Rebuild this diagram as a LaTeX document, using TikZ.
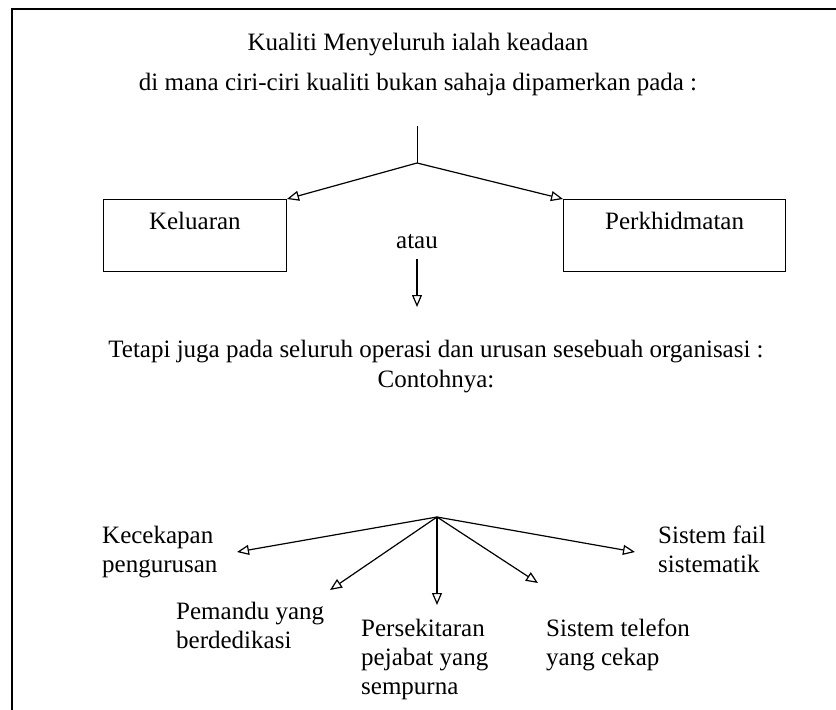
\documentclass[tikz,border=0pt]{standalone}
\usepackage{fontspec}
\setmainfont{Liberation Serif}
\usetikzlibrary{arrows.meta, positioning}
\tikzstyle{kotak} = [rectangle, draw=black, line width=1.2pt, inner sep=0pt, text height=30pt, text depth=42pt, align=center]
\tikzstyle{teks} = [inner sep=0pt, align=left]
\tikzstyle{arrow} = [line width=1.2pt, -{Triangle[open, length=12pt, width=10pt]}]
\tikzset{
  font={\fontsize{25pt}{29pt}\selectfont}}

\begin{document}
\begin{tikzpicture}[x=1pt, y=-1pt]
    \useasboundingbox (0,0) rectangle (836,710);

    \coordinate (bingkaibawah) at (12,710);
    \coordinate (bingkaisudut) at (12,9);
    \coordinate (bingkaikanan) at (836,9);
    \draw [line width=1.5pt] (bingkaibawah) -- (bingkaisudut) -- (bingkaikanan);

    \node (judul1) [teks] at (418,45) {Kualiti Menyeluruh ialah keadaan};
    \node (judul2) [teks] at (418,84) {di mana ciri-ciri kualiti bukan sahaja dipamerkan pada :};

    \coordinate (pangkal) at (417,126);
    \coordinate (cabang) at (417,163);
    \node (keluaran) [kotak, minimum width=183pt, anchor=north east] at (287,199) {Keluaran};
    \node (perkhidmatan) [kotak, minimum width=222pt, anchor=north west] at (563,199) {Perkhidmatan};
    \node (atau) [teks] at (417,242) {atau};
    \coordinate (bawah) at (417,307);

    \node (tetapi) [teks] at (436,352) {Tetapi juga pada seluruh operasi dan urusan sesebuah organisasi :};
    \node (contoh) [teks, below=6.5pt of tetapi] {Contohnya:};

    \coordinate (pusat) at (437,517);
    \coordinate (hujung1) at (237,552);
    \coordinate (hujung2) at (330,590);
    \coordinate (hujung3) at (437,605);
    \coordinate (hujung4) at (538,583);
    \coordinate (hujung5) at (635,552);

    \node (kecekapan) [teks, anchor=north west] at (102,526) {Kecekapan\\pengurusan};
    \node (pemandu) [teks, anchor=north west] at (176,602) {Pemandu yang\\berdedikasi};
    \node (persekitaran) [teks, anchor=north west] at (361,619) {Persekitaran\\pejabat yang\\sempurna};
    \node (telefon) [teks, anchor=north west] at (546,619) {Sistem telefon\\yang cekap};
    \node (fail) [teks, anchor=north west] at (658,526) {Sistem fail\\sistematik};

    \draw (pangkal) -- (cabang);
    \draw [arrow] (cabang) -- (keluaran.north east);
    \draw [arrow] (cabang) -- (perkhidmatan.north west);
    \draw [arrow, shorten <=10pt] (atau) -- (bawah);

    \foreach \h in {1,...,5}
        \draw [arrow] (pusat) -- (hujung\h);
\end{tikzpicture}
\end{document}
